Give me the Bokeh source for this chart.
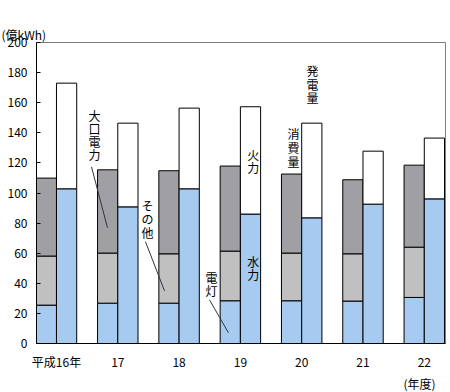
from bokeh.plotting import figure
from bokeh.models import ColumnDataSource, Range1d, FixedTicker, Title
from bokeh.core.properties import value
from bokeh.embed import file_html
from bokeh.resources import INLINE

# ---- data (億kWh) ----
years = ["平成16年", "17", "18", "19", "20", "21", "22"]
lighting = [25.5, 26.8, 26.8, 28.4, 28.4, 28.2, 30.6]      # 電灯
other = [32.6, 33.3, 32.8, 33.0, 31.7, 31.4, 33.4]          # その他
large_power = [51.8, 55.3, 55.2, 56.5, 52.5, 49.2, 54.5]    # 大口電力
hydro = [102.8, 90.8, 102.8, 86.0, 83.5, 92.6, 96.1]        # 水力
thermal = [70.2, 55.6, 53.6, 71.3, 62.9, 35.2, 40.4]        # 火力

y_ticks = list(range(0, 201, 20))

FONT = "Noto Sans CJK JP"
BLUE = "#a6caf0"
LGRAY = "#c0c0c0"
DGRAY = "#a0a0a4"

idx = list(range(len(years)))
bw = 0.33
src = ColumnDataSource(dict(
    xc=[i - bw / 2 for i in idx],
    xg=[i + bw / 2 for i in idx],
    lighting=lighting, other=other, large=large_power,
    hydro=hydro, thermal=thermal,
))

p = figure(width=450, height=392, output_backend="svg", toolbar_location=None,
           x_range=Range1d(-0.326, 6.346), y_range=Range1d(0, 200),
           min_border_left=36, min_border_right=5, min_border_top=42, min_border_bottom=49)
p.outline_line_color = "#808080"
p.outline_line_width = 1
p.xgrid.grid_line_color = None
p.ygrid.grid_line_color = None
p.background_fill_color = "white"
p.border_fill_color = "white"

p.vbar_stack(["lighting", "other", "large"], x="xc", width=bw, source=src,
             fill_color=[BLUE, LGRAY, DGRAY], line_color="black", line_width=1)
p.vbar_stack(["hydro", "thermal"], x="xg", width=bw, source=src,
             fill_color=[BLUE, "white"], line_color="black", line_width=1)

# axes
p.xaxis.ticker = FixedTicker(ticks=idx)
p.xaxis.major_label_overrides = {i: years[i] for i in idx}
p.xaxis.major_tick_in = 0
p.xaxis.major_tick_out = 0
p.xaxis.minor_tick_line_color = None
p.xaxis.axis_line_color = "black"
p.xaxis.major_label_standoff = 9
p.xaxis.major_label_text_font = FONT
p.xaxis.major_label_text_font_size = "12px"
p.xaxis.major_label_text_color = "black"

p.yaxis.ticker = FixedTicker(ticks=y_ticks)
p.yaxis.major_tick_in = 4
p.yaxis.major_tick_out = 0
p.yaxis.minor_tick_line_color = None
p.yaxis.axis_line_color = "black"
p.yaxis.major_label_standoff = 9
p.yaxis.major_label_text_font = FONT
p.yaxis.major_label_text_font_size = "12px"
p.yaxis.major_label_text_color = "black"

# vertical annotation labels
ann = [
    ("大口電力", 0.62, 151.7, 13.0),
    ("その他", 1.485, 91.8, 13.5),
    ("電灯", 2.53, 43.7, 12.5),
    ("火力", 3.21, 125.7, 13.0),
    ("水力", 3.21, 54.6, 13.0),
    ("消費量", 3.866, 139.7, 14.0),
    ("発電量", 4.176, 181.2, 13.5),
]
tx, ty, tt, toff = [], [], [], []
for s, x, y, step in ann:
    for k, ch in enumerate(s):
        tx.append(x)
        ty.append(y)
        tt.append(ch)
        toff.append(k * step)
p.text(x=tx, y=ty, text=tt, y_offset=toff, text_align="center", text_baseline="middle",
       text_font=value(FONT), text_font_size="12px", text_color="black")

# leader lines
p.segment(x0=[0.571, 1.452, 2.496], y0=[117.4, 67.6, 29.0],
          x1=[0.832, 1.762, 2.806], y1=[76.9, 35.0, 7.1],
          line_color="#333344", line_width=1)

p.add_layout(Title(text="\n(億kWh)", align="left", offset=-35, standoff=0,
                   text_font=FONT, text_font_size="12px", text_font_style="normal",
                   text_color="black"), "above")
p.add_layout(Title(text="(年度)", align="right", offset=10, standoff=0,
                   text_font=FONT, text_font_size="12px", text_font_style="normal",
                   text_color="black"), "below")

open("out.html", "w").write(file_html(p, INLINE))
